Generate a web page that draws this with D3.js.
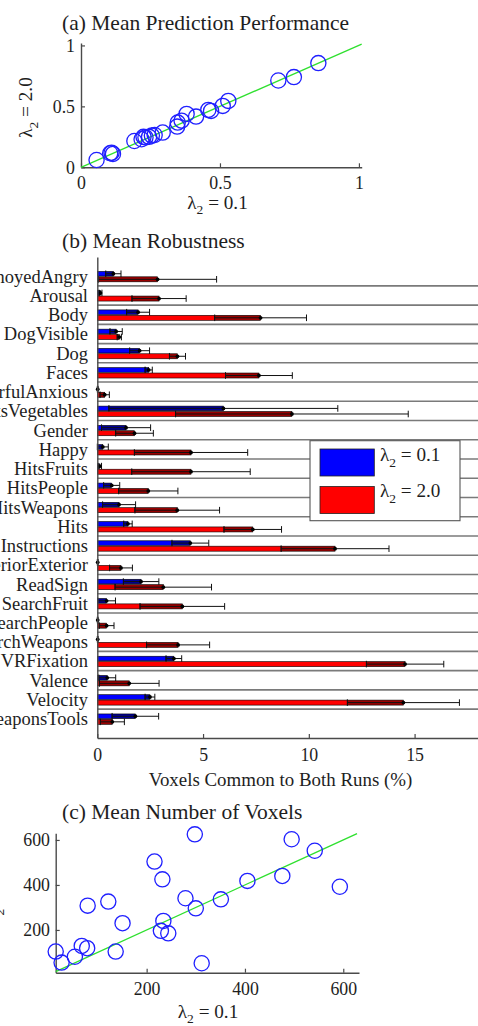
<!DOCTYPE html>
<html><head><meta charset="utf-8">
<script src="https://cdn.jsdelivr.net/npm/d3@7"></script>
<style>
body{margin:0;background:#fff}
svg{display:block}
svg text{font-family:'Liberation Serif','DejaVu Serif',Times,serif;fill:#1e1e1e}
</style>
</head><body>
<svg id="fig" width="478" height="1026"></svg>
<script>
// (a) mean prediction performance per model, lambda2 = 0.1 vs 2.0
const perfLow  = [0.056,0.105,0.110,0.115,0.192,0.218,0.225,0.232,0.245,0.255,0.265,0.294,0.346,0.348,0.362,0.380,0.414,0.458,0.468,0.510,0.530,0.710,0.766,0.854];
const perfHigh = [0.060,0.115,0.120,0.110,0.216,0.230,0.250,0.245,0.250,0.260,0.265,0.285,0.334,0.367,0.383,0.438,0.416,0.471,0.463,0.504,0.545,0.712,0.740,0.855];
const perfTicks = [0, 0.5, 1];

// (b) mean robustness (% voxels common to both runs) with error half-widths
const categories = ["AnnoyedAngry","Arousal","Body","DogVisible","Dog","Faces","FearfulAnxious","FruitsVegetables",
  "Gender","Happy","HitsFruits","HitsPeople","HitsWeapons","Hits","Instructions","InteriorExterior","ReadSign",
  "SearchFruit","SearchPeople","SearchWeapons","VRFixation","Valence","Velocity","WeaponsTools"];
const robLowMean  = [0.76,0.15,1.93,0.89,2.00,2.43,0.02,5.96,1.36,0.26,0.12,0.68,1.03,1.45,4.40,0.02,2.07,0.44,0.02,0.02,3.62,0.47,2.49,1.80];
const robLowErr   = [0.36,0.07,0.54,0.29,0.47,0.17,0.02,5.41,1.16,0.26,0.08,0.38,0.78,0.20,0.87,0.02,0.84,0.42,0.02,0.02,0.37,0.40,0.23,1.10];
const robHighMean = [2.85,2.92,7.72,1.04,3.79,7.64,0.35,9.20,1.76,4.43,4.43,2.41,3.78,7.35,11.24,1.12,3.12,4.02,0.44,3.82,14.55,1.51,14.47,0.71];
const robHighErr  = [2.79,1.28,2.17,0.10,0.38,1.58,0.22,5.50,0.89,2.68,2.80,1.40,2.00,1.36,2.55,0.54,2.28,2.00,0.35,1.49,1.83,1.41,2.65,0.57];
const robTicks = [0, 5, 10, 15];

// (c) mean number of voxels per model
const voxLow  = [15,27,54,68,79,80,122,137,151,216,232,229,234,244,279,298,300,312,351,405,476,495,542,593];
const voxHigh = [104,55,81,129,119,308,326,104,230,504,425,196,240,185,341,625,296,52,336,418,440,603,552,392];
const voxTicks = [200, 400, 600];

const FONT = "'Liberation Serif','DejaVu Serif',Times,serif";
const svg = d3.select("#fig");
const blue = "#1f1fff", green = "#2fe02f", axisCol = "#4a4a4a";
const TICK = 17.8, LAB = 19.2, TITLE = 21.5;

function styleAxis(g, size){
  g.attr("font-family", null);
  g.select(".domain").attr("stroke", axisCol).attr("stroke-width", 1.4);
  g.selectAll(".tick line").attr("stroke", axisCol).attr("stroke-width", 1.2);
  g.selectAll(".tick text").attr("fill", "#1e1e1e").style("font-size", size + "px").style("font-family", FONT);
}
function lambdaLabel(sel, value){
  sel.style("font-family", FONT).style("font-size", LAB + "px");
  sel.append("tspan").text("λ");
  sel.append("tspan").attr("dy", 5.5).style("font-size", "13.5px").text("2");
  sel.append("tspan").attr("dy", -5.5).text(" = " + value);
}
function title(y, txt){
  svg.append("text").attr("x", 62).attr("y", y).style("font-size", TITLE + "px").style("font-family", FONT).text(txt);
}

// ---------- (a) ----------
title(29.5, "(a) Mean Prediction Performance");
const xA = d3.scaleLinear().domain([0, 1.01]).range([81, 361.7]);
const yA = d3.scaleLinear().domain([0, 1.02]).range([167.3, 43]);
const gA = svg.append("g");
gA.append("g").attr("transform", `translate(0,${yA(0)})`)
  .call(d3.axisBottom(xA).tickValues(perfTicks).tickFormat(d3.format("")).tickSizeInner(-4).tickSizeOuter(0).tickPadding(9))
  .call(g => styleAxis(g, TICK));
gA.append("g").attr("transform", `translate(${xA(0)},0)`)
  .call(d3.axisLeft(yA).tickValues(perfTicks).tickFormat(d3.format("")).tickSizeInner(-4).tickSizeOuter(0).tickPadding(6))
  .call(g => styleAxis(g, TICK));
gA.append("line").attr("x1", xA(0)).attr("y1", yA(0)).attr("x2", xA(1.01)).attr("y2", yA(1.01))
  .attr("stroke", green).attr("stroke-width", 1.3);
gA.selectAll("circle.pt").data(perfLow).join("circle").attr("class", "pt")
  .attr("cx", d => xA(d)).attr("cy", (d, i) => yA(perfHigh[i])).attr("r", 7.6)
  .attr("fill", "none").attr("stroke", blue).attr("stroke-width", 1.3);
gA.append("text").attr("x", 217.5).attr("y", 208.5).attr("text-anchor", "middle").call(lambdaLabel, "0.1");
gA.append("text").attr("transform", "translate(32,107.5) rotate(-90)").attr("text-anchor", "middle").call(lambdaLabel, "2.0");

// ---------- (b) ----------
title(247.5, "(b) Mean Robustness");
const xB = d3.scaleLinear().domain([0, 19]).range([97.3, 499.2]);
const yB = d3.scaleLinear().domain([0, categories.length + 1]).range([257, 738]);
const gB = svg.append("g");

// row separators
gB.selectAll("line.sep").data(d3.range(1, categories.length)).join("line").attr("class", "sep")
  .attr("x1", xB(0)).attr("x2", 480).attr("y1", d => yB(d + 0.5)).attr("y2", d => yB(d + 0.5))
  .attr("stroke", "#7a7a7a").attr("stroke-width", 1.6);

const series = [
  {mean: robLowMean,  err: robLowErr,  light: "#0000ff", dark: "#00009a", off0: -0.25, off1: -0.01},
  {mean: robHighMean, err: robHighErr, light: "#ff0000", dark: "#9a0000", off0: 0.03,  off1: 0.29}
];
series.forEach(s => {
  const g = gB.append("g");
  s.mean.forEach((m, i) => {
    const c = i + 1, lo = Math.max(0, m - s.err[i]), hi = m + s.err[i];
    const y0 = yB(c + s.off0), y1 = yB(c + s.off1), ym = (y0 + y1) / 2;
    g.append("rect").attr("x", xB(0)).attr("y", y0).attr("width", xB(lo) - xB(0)).attr("height", y1 - y0)
      .attr("fill", s.light).attr("stroke", "#000").attr("stroke-width", 0.6);
    g.append("rect").attr("x", xB(lo)).attr("y", y0).attr("width", xB(m) - xB(lo)).attr("height", y1 - y0)
      .attr("fill", s.dark).attr("stroke", "#000").attr("stroke-width", 0.6);
    g.append("line").attr("x1", xB(lo)).attr("x2", xB(hi)).attr("y1", ym).attr("y2", ym)
      .attr("stroke", "#111").attr("stroke-width", 1);
    [lo, hi].forEach(v => g.append("line").attr("x1", xB(v)).attr("x2", xB(v))
      .attr("y1", ym - 3.3).attr("y2", ym + 3.3).attr("stroke", "#111").attr("stroke-width", 1));
    g.append("circle").attr("cx", xB(m)).attr("cy", ym).attr("r", 1.9).attr("fill", "#000");
  });
});

gB.append("g").attr("transform", `translate(0,${yB(categories.length + 1)})`)
  .call(d3.axisBottom(xB).tickValues(robTicks).tickSizeInner(-4).tickSizeOuter(0).tickPadding(10))
  .call(g => styleAxis(g, TICK));
gB.append("g").attr("transform", `translate(${xB(0)},0)`)
  .call(d3.axisLeft(yB).tickValues(d3.range(1, categories.length + 1)).tickFormat(i => categories[i - 1])
    .tickSize(0).tickPadding(9.3))
  .call(g => styleAxis(g, 18.5));
gB.append("text").attr("x", 280.5).attr("y", 785.5).attr("text-anchor", "middle").style("font-size", "18.9px")
  .style("font-family", FONT).text("Voxels Common to Both Runs (%)");

// legend
const lg = gB.append("g");
lg.append("rect").attr("x", 310).attr("y", 440.7).attr("width", 150).attr("height", 80)
  .attr("fill", "#fff").attr("stroke", "#555").attr("stroke-width", 1.1);
[["#0000ff", "0.1", 449, 461], ["#ff0000", "2.0", 486.5, 497]].forEach(([col, v, y, ty]) => {
  lg.append("rect").attr("x", 320).attr("y", y).attr("width", 54.3).attr("height", 27)
    .attr("fill", col).attr("stroke", "#222").attr("stroke-width", 0.8);
  lg.append("text").attr("x", 380).attr("y", ty).call(lambdaLabel, v);
});

// ---------- (c) ----------
title(818.5, "(c) Mean Number of Voxels");
const xC = d3.scaleLinear().domain([15, 632]).range([55.7, 359]);
const yC = d3.scaleLinear().domain([10, 630]).range([972.7, 833.2]);
const gC = svg.append("g");
gC.append("g").attr("transform", `translate(0,${yC(10)})`)
  .call(d3.axisBottom(xC).tickValues(voxTicks).tickSizeInner(-4).tickSizeOuter(0).tickPadding(9.8))
  .call(g => styleAxis(g, TICK));
gC.append("g").attr("transform", `translate(${xC(15)},0)`)
  .call(d3.axisLeft(yC).tickValues(voxTicks).tickSizeInner(-4).tickSizeOuter(0).tickPadding(5.7))
  .call(g => styleAxis(g, TICK));
gC.append("line").attr("x1", xC(15)).attr("y1", yC(15)).attr("x2", xC(628)).attr("y2", yC(628))
  .attr("stroke", green).attr("stroke-width", 1.3);
gC.selectAll("circle.pt").data(voxLow).join("circle").attr("class", "pt")
  .attr("cx", d => xC(d)).attr("cy", (d, i) => yC(voxHigh[i])).attr("r", 7.6)
  .attr("fill", "none").attr("stroke", blue).attr("stroke-width", 1.3);
gC.append("text").attr("x", 208).attr("y", 1017.5).attr("text-anchor", "middle").call(lambdaLabel, "0.1");
gC.append("text").attr("transform", "translate(-2,894.5) rotate(-90)").attr("text-anchor", "middle").call(lambdaLabel, "2.0");
</script>
</body></html>
